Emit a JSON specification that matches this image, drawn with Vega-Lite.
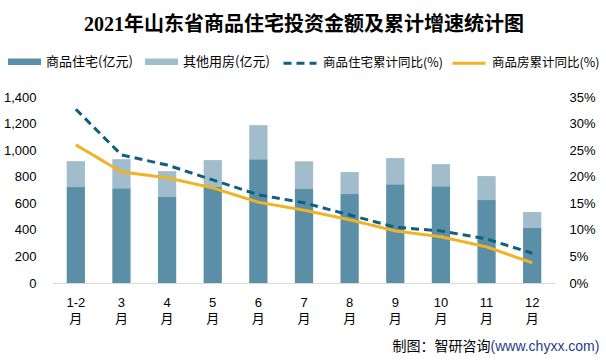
{
  "$schema": "https://vega.github.io/schema/vega-lite/v6.json",
  "width": 502,
  "height": 186,
  "autosize": "none",
  "padding": {"left": 53, "top": 97, "right": 51, "bottom": 80},
  "background": "#ffffff",
  "config": {
    "view": {"stroke": null},
    "font": "Liberation Sans, Noto Sans CJK SC",
    "axis": {"labelFont": "Liberation Sans, Noto Sans CJK SC", "titleFont": "Noto Sans CJK SC"},
    "legend": {"labelFont": "Noto Sans CJK SC"}
  },
  "title": {
    "text": "2021年山东省商品住宅投资金额及累计增速统计图",
    "font": "Liberation Serif, Noto Sans CJK SC",
    "fontSize": 20,
    "fontWeight": "bold",
    "color": "#000000",
    "anchor": "middle",
    "frame": "group",
    "offset": 10
  },
  "datasets": {
    "bars": [
      {"month": "1-2", "type": "商品住宅(亿元)", "value": 722},
      {"month": "3", "type": "商品住宅(亿元)", "value": 714},
      {"month": "4", "type": "商品住宅(亿元)", "value": 647},
      {"month": "5", "type": "商品住宅(亿元)", "value": 722},
      {"month": "6", "type": "商品住宅(亿元)", "value": 932},
      {"month": "7", "type": "商品住宅(亿元)", "value": 707},
      {"month": "8", "type": "商品住宅(亿元)", "value": 669},
      {"month": "9", "type": "商品住宅(亿元)", "value": 744},
      {"month": "10", "type": "商品住宅(亿元)", "value": 729},
      {"month": "11", "type": "商品住宅(亿元)", "value": 624},
      {"month": "12", "type": "商品住宅(亿元)", "value": 414},
      {"month": "1-2", "type": "其他用房(亿元)", "value": 195},
      {"month": "3", "type": "其他用房(亿元)", "value": 218},
      {"month": "4", "type": "其他用房(亿元)", "value": 195},
      {"month": "5", "type": "其他用房(亿元)", "value": 203},
      {"month": "6", "type": "其他用房(亿元)", "value": 256},
      {"month": "7", "type": "其他用房(亿元)", "value": 210},
      {"month": "8", "type": "其他用房(亿元)", "value": 166},
      {"month": "9", "type": "其他用房(亿元)", "value": 196},
      {"month": "10", "type": "其他用房(亿元)", "value": 166},
      {"month": "11", "type": "其他用房(亿元)", "value": 181},
      {"month": "12", "type": "其他用房(亿元)", "value": 120}
    ],
    "lines": [
      {"month": "1-2", "series": "商品住宅累计同比(%)", "pct": 32.7},
      {"month": "3", "series": "商品住宅累计同比(%)", "pct": 24.1},
      {"month": "4", "series": "商品住宅累计同比(%)", "pct": 22.2},
      {"month": "5", "series": "商品住宅累计同比(%)", "pct": 19.4},
      {"month": "6", "series": "商品住宅累计同比(%)", "pct": 16.6},
      {"month": "7", "series": "商品住宅累计同比(%)", "pct": 15.1},
      {"month": "8", "series": "商品住宅累计同比(%)", "pct": 12.8},
      {"month": "9", "series": "商品住宅累计同比(%)", "pct": 10.5},
      {"month": "10", "series": "商品住宅累计同比(%)", "pct": 9.8},
      {"month": "11", "series": "商品住宅累计同比(%)", "pct": 8.3},
      {"month": "12", "series": "商品住宅累计同比(%)", "pct": 5.6},
      {"month": "1-2", "series": "商品房累计同比(%)", "pct": 26.0},
      {"month": "3", "series": "商品房累计同比(%)", "pct": 20.9},
      {"month": "4", "series": "商品房累计同比(%)", "pct": 19.8},
      {"month": "5", "series": "商品房累计同比(%)", "pct": 17.9},
      {"month": "6", "series": "商品房累计同比(%)", "pct": 15.2},
      {"month": "7", "series": "商品房累计同比(%)", "pct": 13.7},
      {"month": "8", "series": "商品房累计同比(%)", "pct": 11.9},
      {"month": "9", "series": "商品房累计同比(%)", "pct": 9.8},
      {"month": "10", "series": "商品房累计同比(%)", "pct": 8.7},
      {"month": "11", "series": "商品房累计同比(%)", "pct": 6.8},
      {"month": "12", "series": "商品房累计同比(%)", "pct": 3.8}
    ]
  },
  "layer": [
    {
      "data": {"name": "bars"},
      "mark": {"type": "bar"},
      "encoding": {
        "x": {
          "field": "month",
          "type": "nominal",
          "sort": null,
          "scale": {"paddingInner": 0.6, "paddingOuter": 0.3},
          "axis": {
            "labelExpr": "[datum.label, '月']",
            "labelAngle": 0,
            "labelFontSize": 13,
            "labelColor": "#000000",
            "labelLineHeight": 16,
            "labelPadding": 13,
            "ticks": false,
            "domainColor": "#d9d9d9",
            "domainWidth": 1,
            "title": "制图：智研咨询",
            "titleX": 437,
            "titleY": 63,
            "titleAlign": "right",
            "titleBaseline": "middle",
            "titleFontSize": 14,
            "titleFontWeight": "normal",
            "titleColor": "#000000"
          }
        },
        "y": {
          "field": "value",
          "type": "quantitative",
          "stack": "zero",
          "scale": {"domain": [0, 1400], "nice": false},
          "axis": {
            "values": [0, 200, 400, 600, 800, 1000, 1200, 1400],
            "format": ",.0f",
            "grid": false,
            "domain": false,
            "ticks": false,
            "labelFontSize": 13,
            "labelColor": "#000000",
            "labelPadding": 17,
            "title": "(www.chyxx.com)",
            "titleFont": "Liberation Sans",
            "titleAngle": 0,
            "titleX": 437,
            "titleY": 249,
            "titleAlign": "left",
            "titleBaseline": "middle",
            "titleFontSize": 14,
            "titleFontWeight": "normal",
            "titleColor": "#1f3c88"
          }
        },
        "color": {
          "field": "type",
          "type": "nominal",
          "scale": {"domain": ["商品住宅(亿元)", "其他用房(亿元)"], "range": ["#5b8fa8", "#a1bdcb"]},
          "legend": {
            "orient": "none",
            "legendX": -45,
            "legendY": -52,
            "direction": "horizontal",
            "title": null,
            "symbolType": "M-1,-0.2H1V0.2H-1Z",
            "symbolSize": 1089,
            "symbolStrokeWidth": 0,
            "symbolOpacity": 1,
            "labelFontSize": 13,
            "labelColor": "#000000",
            "labelOffset": 5,
            "columnPadding": 12
          }
        },
        "order": {"field": "type", "sort": "descending"}
      }
    },
    {
      "data": {"name": "lines"},
      "mark": {"type": "line", "strokeWidth": 3},
      "encoding": {
        "x": {"field": "month", "type": "nominal", "sort": null},
        "y": {
          "field": "pct",
          "type": "quantitative",
          "scale": {"domain": [0, 35], "nice": false},
          "axis": {
            "orient": "right",
            "values": [0, 5, 10, 15, 20, 25, 30, 35],
            "labelExpr": "datum.value + '%'",
            "grid": false,
            "domain": false,
            "ticks": false,
            "labelFontSize": 13,
            "labelColor": "#000000",
            "labelPadding": 14,
            "title": null
          }
        },
        "stroke": {
          "field": "series",
          "type": "nominal",
          "scale": {"domain": ["商品住宅累计同比(%)", "商品房累计同比(%)"], "range": ["#0e5f80", "#f0b323"]},
          "legend": {
            "orient": "none",
            "legendX": 229,
            "legendY": -52,
            "direction": "horizontal",
            "title": null,
            "symbolType": "stroke",
            "symbolSize": 1089,
            "symbolStrokeWidth": 3,
            "labelFontSize": 12.5,
            "labelColor": "#000000",
            "labelOffset": 5,
            "columnPadding": 3
          }
        },
        "strokeDash": {
          "field": "series",
          "type": "nominal",
          "scale": {"domain": ["商品住宅累计同比(%)", "商品房累计同比(%)"], "range": [[8, 5], [1, 0]]}
        }
      }
    }
  ],
  "resolve": {"scale": {"y": "independent"}}
}
